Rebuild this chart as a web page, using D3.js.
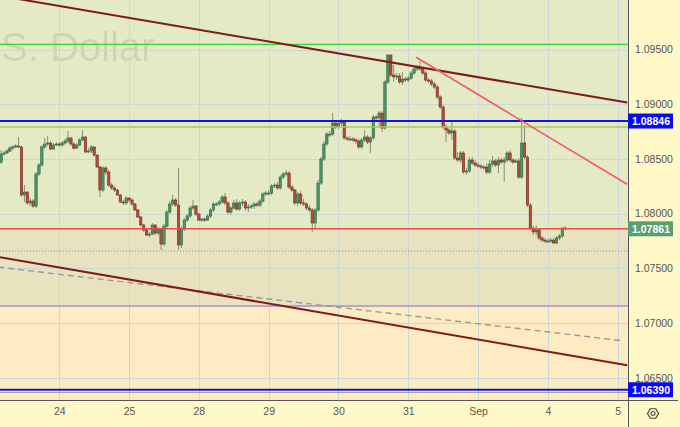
<!DOCTYPE html>
<html><head><meta charset="utf-8">
<script src="https://cdn.jsdelivr.net/npm/d3@7"></script>
<style>html,body{margin:0;padding:0;background:#fff9c8;} svg{display:block;font-family:"Liberation Sans",Arial,sans-serif;}</style>
</head><body><svg id="c" width="680" height="427"></svg>
<script>
// ---- data ----
const firstOpen = 1.08471;
const closes = [
1.08545,1.08554,1.08572,1.08599,1.08609,1.08618,1.08609,1.08170,1.08197,1.08097,
1.08115,1.08069,1.08362,1.08444,1.08609,1.08636,1.08645,1.08590,1.08627,1.08636,
1.08627,1.08645,1.08663,1.08691,1.08636,1.08599,1.08627,1.08673,1.08700,1.08563,
1.08572,1.08609,1.08535,1.08426,1.08216,1.08417,1.08380,1.08261,1.08234,1.08216,
1.08170,1.08106,1.08097,1.08142,1.08124,1.08088,1.08033,1.07969,1.07896,1.07850,
1.07804,1.07813,1.07896,1.07822,1.07859,1.07722,1.07886,1.08014,1.08088,1.08124,
1.08078,1.07713,1.07859,1.07941,1.07978,1.08051,1.08069,1.07996,1.07941,1.07950,
1.07941,1.07978,1.08033,1.08088,1.08088,1.08106,1.08152,1.08097,1.08014,1.08051,
1.08097,1.08042,1.08097,1.08106,1.08051,1.08060,1.08069,1.08088,1.08078,1.08115,
1.08179,1.08188,1.08188,1.08252,1.08261,1.08234,1.08334,1.08362,1.08371,1.08243,
1.08216,1.08097,1.08179,1.08097,1.08088,1.08051,1.08033,1.07914,1.08033,1.08279,
1.08499,1.08636,1.08727,1.08727,1.08828,1.08791,1.08828,1.08837,1.08691,1.08682,
1.08682,1.08673,1.08663,1.08609,1.08673,1.08700,1.08654,1.08691,1.08883,1.08874,
1.08919,1.08782,1.09203,1.09450,1.09267,1.09249,1.09258,1.09203,1.09230,1.09221,
1.09239,1.09285,1.09322,1.09340,1.09322,1.09285,1.09221,1.09212,1.09184,1.09157,
1.09066,1.08974,1.08791,1.08764,1.08737,1.08755,1.08508,1.08490,1.08554,1.08380,
1.08389,1.08490,1.08462,1.08444,1.08435,1.08426,1.08426,1.08380,1.08453,1.08481,
1.08444,1.08490,1.08471,1.08490,1.08554,1.08490,1.08471,1.08481,1.08334,1.08645,
1.08517,1.08078,1.07868,1.07832,1.07850,1.07777,1.07758,1.07749,1.07749,1.07758,
1.07731,1.07777,1.07795,1.07868,1.07861];
const highs = [
1.08581,1.08572,1.08590,1.08618,1.08627,1.08636,1.08700,1.08618,1.08261,1.08206,
1.08142,1.08133,1.08380,1.08462,1.08627,1.08691,1.08709,1.08663,1.08645,1.08654,
1.08654,1.08663,1.08682,1.08755,1.08700,1.08654,1.08645,1.08691,1.08764,1.08709,
1.08599,1.08627,1.08618,1.08545,1.08435,1.08435,1.08435,1.08398,1.08279,1.08252,
1.08225,1.08179,1.08124,1.08161,1.08152,1.08142,1.08097,1.08042,1.07978,1.07905,
1.07859,1.07832,1.07914,1.07905,1.07877,1.07868,1.07905,1.08033,1.08115,1.08170,
1.08142,1.08417,1.07886,1.07960,1.07996,1.08069,1.08124,1.08078,1.08005,1.07960,
1.07969,1.07996,1.08051,1.08106,1.08106,1.08124,1.08170,1.08188,1.08115,1.08069,
1.08124,1.08133,1.08115,1.08133,1.08124,1.08088,1.08088,1.08106,1.08106,1.08133,
1.08197,1.08206,1.08216,1.08270,1.08279,1.08289,1.08353,1.08380,1.08398,1.08389,
1.08261,1.08225,1.08197,1.08206,1.08133,1.08106,1.08078,1.08051,1.08051,1.08307,
1.08517,1.08663,1.08746,1.08755,1.08919,1.08855,1.08855,1.08865,1.08855,1.08709,
1.08709,1.08700,1.08691,1.08682,1.08691,1.08764,1.08718,1.08709,1.08901,1.08901,
1.08938,1.08938,1.09221,1.09450,1.09450,1.09358,1.09285,1.09285,1.09294,1.09249,
1.09258,1.09303,1.09340,1.09358,1.09395,1.09340,1.09303,1.09239,1.09230,1.09203,
1.09175,1.09084,1.08993,1.08819,1.08782,1.08837,1.08773,1.08563,1.08572,1.08572,
1.08417,1.08517,1.08517,1.08490,1.08471,1.08453,1.08444,1.08462,1.08490,1.08526,
1.08499,1.08517,1.08508,1.08517,1.08572,1.08581,1.08508,1.08499,1.08508,1.08874,
1.08810,1.08535,1.08097,1.07886,1.07896,1.07868,1.07795,1.07777,1.07768,1.07777,
1.07777,1.07795,1.07813,1.07877,1.07886];
const lows = [
1.08453,1.08526,1.08545,1.08563,1.08581,1.08599,1.08599,1.08152,1.08106,1.08078,
1.08069,1.08051,1.08051,1.08343,1.08426,1.08590,1.08618,1.08581,1.08581,1.08618,
1.08609,1.08609,1.08627,1.08645,1.08618,1.08581,1.08590,1.08618,1.08663,1.08554,
1.08554,1.08554,1.08517,1.08417,1.08152,1.08197,1.08353,1.08243,1.08216,1.08197,
1.08161,1.08097,1.08078,1.08078,1.08106,1.08069,1.08024,1.07960,1.07886,1.07832,
1.07795,1.07786,1.07804,1.07804,1.07804,1.07667,1.07704,1.07868,1.07996,1.08069,
1.08060,1.07667,1.07685,1.07841,1.07923,1.07960,1.08033,1.07978,1.07932,1.07923,
1.07923,1.07932,1.07960,1.08014,1.08069,1.08069,1.08088,1.08078,1.07996,1.07987,
1.08033,1.08024,1.08024,1.08069,1.08024,1.08014,1.08042,1.08042,1.08060,1.08060,
1.08097,1.08161,1.08170,1.08170,1.08234,1.08216,1.08216,1.08316,1.08343,1.08225,
1.08197,1.08078,1.08069,1.08078,1.08069,1.08033,1.08014,1.07832,1.07868,1.08014,
1.08261,1.08481,1.08618,1.08700,1.08709,1.08773,1.08773,1.08801,1.08673,1.08663,
1.08663,1.08654,1.08636,1.08590,1.08590,1.08654,1.08636,1.08554,1.08673,1.08846,
1.08791,1.08746,1.08764,1.09184,1.09249,1.09203,1.09221,1.09184,1.09175,1.09203,
1.09203,1.09221,1.09267,1.09303,1.09303,1.09267,1.09203,1.09194,1.09166,1.09139,
1.09047,1.08956,1.08773,1.08654,1.08718,1.08673,1.08490,1.08471,1.08462,1.08362,
1.08353,1.08371,1.08444,1.08426,1.08417,1.08407,1.08398,1.08362,1.08362,1.08426,
1.08426,1.08371,1.08453,1.08289,1.08471,1.08471,1.08453,1.08462,1.08316,1.08316,
1.08499,1.08060,1.07850,1.07804,1.07804,1.07758,1.07740,1.07731,1.07731,1.07731,
1.07722,1.07722,1.07758,1.07777,1.07850];
const dayStarts = [20,44,68,92,116,140,164,188,212];
const dayLabels = ["24","25","28","29","30","31","Sep","4","5"];
const priceTicks = [1.065,1.070,1.075,1.080,1.085,1.090,1.095];
// horizontal levels: green, blue(upper), yellow-green, red(last), dotted, purple, blue(lower), grey
const levelPrices = [1.09547,1.08846,1.08791,1.07861,1.07658,1.07156,1.06390,1.06365];
const levelLabels = ["1.08846","1.07861","1.06390"];
const labelPrices = [1.08846,1.07861,1.06390];
const trendTop = [[-1,1.09993],[215.3,1.09015]];
const trendBottom = [[-1,1.07603],[215.3,1.06614]];
const trendDashed = [[-1,1.07511],[213.9,1.06837]];
const trendPink = [[142.7,1.09429],[215.3,1.08268]];
const zoneMid = [1.07861,1.07156];
const watermark = "S. Dollar";

// ---- layout ----
const W=680,H=427,PW=628,PH=400;
const svg=d3.select("#c");
const x=d3.scaleLinear().domain([20,212]).range([59.3,617.6]);
const y=d3.scaleLinear().domain([1.065,1.095]).range([377.7,49.5]);

svg.append("rect").attr("width",W).attr("height",H).attr("fill","#fff9c8");
svg.append("defs").append("clipPath").attr("id","pc").append("rect").attr("width",PW).attr("height",PH);
const plot=svg.append("g").attr("clip-path","url(#pc)");

// background zones
plot.append("rect").attr("x",0).attr("y",0).attr("width",PW).attr("height",PH).attr("fill","#e4eac3");
plot.append("rect").attr("x",0).attr("y",y(zoneMid[0])).attr("width",PW).attr("height",y(zoneMid[1])-y(zoneMid[0])).attr("fill","#e9e2bf");
plot.append("rect").attr("x",0).attr("y",y(zoneMid[1])).attr("width",PW).attr("height",PH-y(zoneMid[1])).attr("fill","#fdebc3");

// watermark
plot.append("text").attr("x",1).attr("y",61).attr("text-anchor","start")
  .attr("font-size",40).attr("fill","#000").attr("fill-opacity",0.09).text(watermark);

// grid
plot.selectAll(".hg").data(priceTicks).join("line").attr("x1",0).attr("x2",PW)
  .attr("y1",d=>Math.round(y(d))+0.5).attr("y2",d=>Math.round(y(d))+0.5).attr("stroke","#cdd6d8").attr("stroke-width",1);
plot.selectAll(".vg").data(dayStarts).join("line").attr("y1",0).attr("y2",PH)
  .attr("x1",d=>Math.round(x(d))+0.5).attr("x2",d=>Math.round(x(d))+0.5).attr("stroke","#cdd6d8").attr("stroke-width",1);

// candles
const candles=closes.map((c,i)=>({i,o:i===0?firstOpen:closes[i-1],c,h:highs[i],l:lows[i]}));
const cg=plot.append("g");
cg.selectAll(".w").data(candles).join("line")
  .attr("x1",d=>x(d.i)).attr("x2",d=>x(d.i))
  .attr("y1",d=>y(Math.max(d.h,d.o,d.c))).attr("y2",d=>y(Math.min(d.l,d.o,d.c)))
  .attr("stroke","#8a8a80").attr("stroke-width",1);
cg.selectAll(".b").data(candles).join("rect")
  .attr("x",d=>x(d.i)-1.2).attr("width",2.4)
  .attr("y",d=>y(Math.max(d.o,d.c)))
  .attr("height",d=>Math.max(1,Math.abs(y(d.o)-y(d.c))))
  .attr("fill",d=>d.c>=d.o?"#4b9668":"#b0503a")
  .attr("stroke",d=>d.c>=d.o?"#2c6644":"#7a2c1e").attr("stroke-width",0.6);

// horizontal levels
const lvStyle=[
 {c:"#3fcf3f",w:1.2},{c:"#1010f0",w:2},{c:"#aacb55",w:1.5},{c:"#e4504c",w:1.5},
 {c:"#8a8a8a",w:1,d:"1,2"},{c:"#a68fd0",w:1.5},{c:"#1010f0",w:2},{c:"#a89e8a",w:1}];
plot.selectAll(".lv").data(levelPrices).join("line")
  .attr("x1",0).attr("x2",PW).attr("y1",d=>y(d)).attr("y2",d=>y(d))
  .attr("stroke",(d,i)=>lvStyle[i].c).attr("stroke-width",(d,i)=>lvStyle[i].w)
  .attr("stroke-dasharray",(d,i)=>lvStyle[i].d||null);

// trend lines
const line=d3.line().x(d=>x(d[0])).y(d=>y(d[1]));
plot.append("path").attr("d",line(trendDashed)).attr("fill","none").attr("stroke","#9a9a95").attr("stroke-width",1.4).attr("stroke-dasharray","6,4");
plot.append("path").attr("d",line(trendTop)).attr("fill","none").attr("stroke","#7d1a1a").attr("stroke-width",2);
plot.append("path").attr("d",line(trendBottom)).attr("fill","none").attr("stroke","#7d1a1a").attr("stroke-width",2);
plot.append("path").attr("d",line(trendPink)).attr("fill","none").attr("stroke","#f25b66").attr("stroke-width",1.6);

// axes
svg.append("line").attr("x1",PW+0.5).attr("x2",PW+0.5).attr("y1",0).attr("y2",H).attr("stroke","#555").attr("stroke-width",1);
svg.append("line").attr("x1",0).attr("x2",W-2).attr("y1",PH+0.5).attr("y2",PH+0.5).attr("stroke","#555").attr("stroke-width",1);

const ya=svg.append("g").attr("transform",`translate(${PW},0)`)
  .call(d3.axisRight(y).tickValues(priceTicks).tickFormat(d3.format(".5f")).tickSize(0).tickPadding(7));
ya.select(".domain").remove();
ya.selectAll("text").attr("font-size",10.5).attr("fill","#555").attr("font-family","Liberation Sans, Arial, sans-serif");

const xa=svg.append("g").attr("transform",`translate(0,${PH})`)
  .call(d3.axisBottom(x).tickValues(dayStarts).tickFormat((d,i)=>dayLabels[i]).tickSize(0).tickPadding(8));
xa.select(".domain").remove();
xa.selectAll("text").attr("font-size",10.5).attr("fill","#555").attr("font-family","Liberation Sans, Arial, sans-serif");

// price label boxes
const lblColors=["#0a0af5","#5a9e72","#0a0af5"];
const lb=svg.selectAll(".pl").data(labelPrices).join("g").attr("transform",d=>`translate(${PW},${y(d)})`);
lb.append("rect").attr("x",0).attr("y",-7.5).attr("width",45).attr("height",15).attr("fill",(d,i)=>lblColors[i]);
lb.append("text").attr("x",23).attr("y",4).attr("text-anchor","middle").attr("font-size",10.5)
  .attr("font-weight","bold").attr("fill","#fff").text((d,i)=>levelLabels[i]);

// settings icon
const gi=svg.append("g").attr("transform","translate(653,413.5)");
const hex=d3.range(6).map(k=>[5.5*Math.cos(Math.PI/3*k),5.5*Math.sin(Math.PI/3*k)]);
gi.append("polygon").attr("points",hex.map(p=>p.join(",")).join(" ")).attr("fill","none").attr("stroke","#444").attr("stroke-width",1.2);
gi.append("circle").attr("r",2).attr("fill","none").attr("stroke","#444").attr("stroke-width",1.2);
</script></body></html>
